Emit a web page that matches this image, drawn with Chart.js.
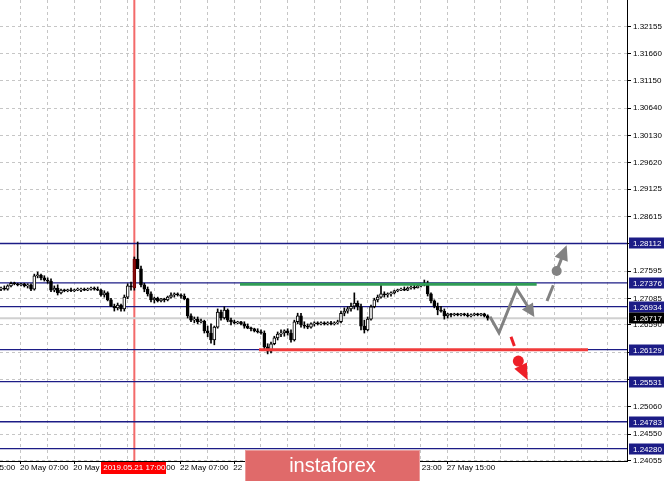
<!DOCTYPE html>
<html>
<head>
<meta charset="utf-8">
<script src="https://cdn.jsdelivr.net/npm/chart.js@4.4.1/dist/chart.umd.min.js"></script>
<style>
  html, body { margin: 0; padding: 0; background: #fff; overflow: hidden; }
  canvas { display: block; }
</style>
</head>
<body>
<canvas id="chart" width="665" height="481"></canvas>
<script>
// GBPUSD H1, 17–28 May 2019 — one entry per bar
const openP = [
  1.2726, 1.2728, 1.2726, 1.2732, 1.2737, 1.2736, 1.2734, 1.2736, 1.2732, 1.2734,
  1.2726, 1.2751, 1.2752, 1.2747, 1.2743, 1.2741, 1.2724, 1.2728, 1.2719, 1.2724,
  1.2723, 1.2724, 1.2723, 1.2724, 1.2724, 1.2726, 1.2724, 1.2726, 1.2728, 1.2726,
  1.2724, 1.2715, 1.2719, 1.2706, 1.2694, 1.2691, 1.2696, 1.2689, 1.2711, 1.2732,
  1.2728, 1.2782, 1.2764, 1.2734, 1.2726, 1.2717, 1.2706, 1.2709, 1.2704, 1.2708,
  1.2706, 1.2711, 1.2715, 1.2717, 1.2715, 1.2713, 1.2708, 1.2676, 1.2668, 1.2670,
  1.2665, 1.2666, 1.2648, 1.2644, 1.2631, 1.2655, 1.2683, 1.2672, 1.2687, 1.2668,
  1.2665, 1.2663, 1.2665, 1.2661, 1.2657, 1.2653, 1.2652, 1.2648, 1.2646, 1.2644,
  1.2618, 1.2610, 1.2624, 1.2635, 1.2642, 1.2644, 1.2648, 1.2644, 1.2631, 1.2665,
  1.2676, 1.2659, 1.2657, 1.2655, 1.2661, 1.2663, 1.2661, 1.2663, 1.2661, 1.2663,
  1.2661, 1.2663, 1.2665, 1.2681, 1.2685, 1.2689, 1.2694, 1.2700, 1.2693, 1.2657,
  1.2650, 1.2670, 1.2693, 1.2706, 1.2711, 1.2717, 1.2715, 1.2717, 1.2719, 1.2723,
  1.2724, 1.2726, 1.2724, 1.2728, 1.2730, 1.2728, 1.2732, 1.2734, 1.2737, 1.2717,
  1.2704, 1.2694, 1.2687, 1.2685, 1.2676, 1.2680, 1.2678, 1.2680, 1.2678, 1.2680,
  1.2678, 1.2676, 1.2678, 1.2680, 1.2678, 1.2680, 1.2676
];
const highP = [
  1.2730, 1.2732, 1.2734, 1.2739, 1.2739, 1.2737, 1.2737, 1.2737, 1.2736, 1.2736,
  1.2754, 1.2758, 1.2754, 1.2751, 1.2747, 1.2745, 1.2732, 1.2734, 1.2726, 1.2726,
  1.2726, 1.2728, 1.2726, 1.2728, 1.2728, 1.2728, 1.2728, 1.2730, 1.2730, 1.2730,
  1.2726, 1.2723, 1.2721, 1.2709, 1.2698, 1.2700, 1.2698, 1.2715, 1.2736, 1.2739,
  1.2786, 1.2814, 1.2769, 1.2737, 1.2730, 1.2721, 1.2711, 1.2711, 1.2709, 1.2709,
  1.2713, 1.2719, 1.2719, 1.2719, 1.2717, 1.2717, 1.2709, 1.2680, 1.2674, 1.2674,
  1.2670, 1.2668, 1.2657, 1.2661, 1.2657, 1.2689, 1.2687, 1.2693, 1.2689, 1.2672,
  1.2668, 1.2666, 1.2666, 1.2665, 1.2661, 1.2655, 1.2653, 1.2652, 1.2650, 1.2648,
  1.2624, 1.2627, 1.2638, 1.2646, 1.2650, 1.2650, 1.2652, 1.2650, 1.2668, 1.2681,
  1.2681, 1.2665, 1.2661, 1.2663, 1.2665, 1.2665, 1.2665, 1.2665, 1.2665, 1.2666,
  1.2665, 1.2668, 1.2685, 1.2691, 1.2693, 1.2700, 1.2719, 1.2704, 1.2698, 1.2668,
  1.2674, 1.2696, 1.2709, 1.2715, 1.2734, 1.2721, 1.2719, 1.2721, 1.2724, 1.2726,
  1.2728, 1.2730, 1.2730, 1.2732, 1.2734, 1.2734, 1.2736, 1.2743, 1.2741, 1.2719,
  1.2706, 1.2700, 1.2694, 1.2689, 1.2681, 1.2681, 1.2681, 1.2681, 1.2681, 1.2681,
  1.2681, 1.2680, 1.2681, 1.2681, 1.2681, 1.2681, 1.2678
];
const lowP = [
  1.2723, 1.2724, 1.2724, 1.2730, 1.2734, 1.2732, 1.2732, 1.2730, 1.2728, 1.2723,
  1.2724, 1.2747, 1.2743, 1.2741, 1.2737, 1.2721, 1.2721, 1.2715, 1.2717, 1.2721,
  1.2721, 1.2721, 1.2721, 1.2723, 1.2721, 1.2723, 1.2723, 1.2724, 1.2724, 1.2723,
  1.2713, 1.2711, 1.2704, 1.2693, 1.2685, 1.2687, 1.2685, 1.2685, 1.2708, 1.2724,
  1.2724, 1.2779, 1.2730, 1.2721, 1.2713, 1.2702, 1.2700, 1.2702, 1.2702, 1.2702,
  1.2704, 1.2709, 1.2711, 1.2713, 1.2709, 1.2706, 1.2672, 1.2665, 1.2663, 1.2661,
  1.2663, 1.2644, 1.2637, 1.2625, 1.2622, 1.2653, 1.2668, 1.2670, 1.2665, 1.2659,
  1.2661, 1.2661, 1.2659, 1.2653, 1.2652, 1.2648, 1.2646, 1.2644, 1.2642, 1.2614,
  1.2605, 1.2607, 1.2622, 1.2631, 1.2637, 1.2638, 1.2640, 1.2627, 1.2629, 1.2661,
  1.2655, 1.2653, 1.2652, 1.2653, 1.2657, 1.2659, 1.2659, 1.2659, 1.2659, 1.2659,
  1.2659, 1.2661, 1.2663, 1.2676, 1.2681, 1.2685, 1.2689, 1.2687, 1.2650, 1.2644,
  1.2648, 1.2668, 1.2691, 1.2702, 1.2709, 1.2711, 1.2711, 1.2713, 1.2717, 1.2721,
  1.2723, 1.2723, 1.2723, 1.2726, 1.2726, 1.2728, 1.2730, 1.2732, 1.2713, 1.2700,
  1.2691, 1.2678, 1.2683, 1.2670, 1.2672, 1.2674, 1.2676, 1.2676, 1.2676, 1.2676,
  1.2674, 1.2674, 1.2676, 1.2676, 1.2676, 1.2674, 1.2668
];
const closeP = [
  1.2728, 1.2726, 1.2732, 1.2737, 1.2736, 1.2734, 1.2736, 1.2732, 1.2734, 1.2726,
  1.2751, 1.2752, 1.2747, 1.2743, 1.2741, 1.2724, 1.2728, 1.2719, 1.2724, 1.2723,
  1.2724, 1.2723, 1.2724, 1.2724, 1.2726, 1.2724, 1.2726, 1.2728, 1.2726, 1.2724,
  1.2715, 1.2719, 1.2706, 1.2694, 1.2691, 1.2696, 1.2689, 1.2711, 1.2732, 1.2730,
  1.2782, 1.2764, 1.2734, 1.2726, 1.2717, 1.2706, 1.2709, 1.2704, 1.2708, 1.2706,
  1.2711, 1.2715, 1.2717, 1.2715, 1.2713, 1.2708, 1.2676, 1.2668, 1.2670, 1.2665,
  1.2666, 1.2648, 1.2644, 1.2631, 1.2655, 1.2683, 1.2672, 1.2687, 1.2668, 1.2665,
  1.2663, 1.2665, 1.2661, 1.2657, 1.2653, 1.2652, 1.2648, 1.2646, 1.2644, 1.2618,
  1.2610, 1.2624, 1.2635, 1.2642, 1.2644, 1.2648, 1.2644, 1.2631, 1.2665, 1.2676,
  1.2659, 1.2657, 1.2655, 1.2661, 1.2663, 1.2661, 1.2663, 1.2661, 1.2663, 1.2661,
  1.2663, 1.2665, 1.2681, 1.2685, 1.2689, 1.2694, 1.2700, 1.2693, 1.2657, 1.2650,
  1.2670, 1.2693, 1.2706, 1.2711, 1.2717, 1.2715, 1.2717, 1.2719, 1.2723, 1.2724,
  1.2726, 1.2724, 1.2728, 1.2730, 1.2728, 1.2732, 1.2734, 1.2737, 1.2717, 1.2704,
  1.2694, 1.2687, 1.2685, 1.2676, 1.2680, 1.2678, 1.2680, 1.2678, 1.2680, 1.2678,
  1.2676, 1.2678, 1.2680, 1.2678, 1.2680, 1.2676, 1.26717
];

// time axis: bar index of each label and its text
const timeTickIdx = [-10, 6, 22, 38, 54, 70, 86, 102, 118, 134];
const timeTickText = ['17 May 15:00', '20 May 07:00', '20 May 23:00', '21 May 15:00', '22 May 07:00',
  '22 May 23:00', '23 May 15:00', '24 May 07:00', '24 May 23:00', '27 May 15:00'];
const markedBar = 40;
const markedText = '2019.05.21 17:00';

// price axis
const priceTicks = [1.32155, 1.31660, 1.31150, 1.30640, 1.30130, 1.29620, 1.29125, 1.28615, 1.28105,
  1.27595, 1.27085, 1.26590, 1.26080, 1.25570, 1.25060, 1.24550, 1.24055];
const levels = [1.28112, 1.27376, 1.26934, 1.26129, 1.25531, 1.24783, 1.24280];
const lastPrice = 1.26717;

// drawn objects, in [bar index, price]
const greenSeg = [[71.7, 1.27350], [160.7, 1.27350]];
const redSeg = [[77.4, 1.26129], [176.1, 1.26129]];
const grayPath = [[146.7, 1.26745], [149.4, 1.26446], [154.7, 1.27268], [160.0, 1.26739]];
const upDash = [[163.8, 1.27038], [165.7, 1.27331]];
const upDot = [166.7, 1.27598];
const upTip = [169.7, 1.28078];
const downDash = [[153.0, 1.26371], [154.0, 1.26197]];
const downDot = [155.2, 1.25917];
const downTip = [158.0, 1.25562];

const xMin = -0.3, xMax = 187.8;
const yMin = 1.24050, yMax = 1.32659;
const FONT = '"Liberation Sans", Arial, sans-serif';
const NAVY = '#1c1c86';

const idx = openP.map((_, i) => i);
const isUp = (i) => closeP[i] >= openP[i];
const seg = (pts) => pts.map(([x, y]) => ({ x, y }));

function head(ctx, x1, y1, x2, y2, len, half) {
  const a = Math.atan2(y2 - y1, x2 - x1);
  const bx = x2 - len * Math.cos(a), by = y2 - len * Math.sin(a);
  ctx.beginPath();
  ctx.moveTo(x2, y2);
  ctx.lineTo(bx + half * Math.sin(a), by - half * Math.cos(a));
  ctx.lineTo(bx - half * Math.sin(a), by + half * Math.cos(a));
  ctx.closePath();
  ctx.fill();
  return [bx + 1 * Math.cos(a), by + 1 * Math.sin(a)];
}

const overlay = {
  id: 'overlay',
  beforeDatasetsDraw(chart) {
    const { ctx, chartArea: a, scales: { x } } = chart;
    const px = x.getPixelForValue(markedBar);
    ctx.save();
    ctx.strokeStyle = '#f36a6a';
    ctx.lineWidth = 2;
    ctx.beginPath(); ctx.moveTo(px, a.top); ctx.lineTo(px, a.bottom); ctx.stroke();
    ctx.restore();
  },
  afterDatasetsDraw(chart) {
    const { ctx, scales: { x, y } } = chart;
    const P = ([i, v]) => [x.getPixelForValue(i), y.getPixelForValue(v)];
    ctx.save();
    ctx.lineCap = 'butt';
    ctx.lineJoin = 'miter';

    // gray zigzag
    ctx.strokeStyle = ctx.fillStyle = '#828282';
    ctx.lineWidth = 3;
    const g = grayPath.map(P);
    const n = g.length;
    const gb = head(ctx, g[n - 2][0], g[n - 2][1], g[n - 1][0], g[n - 1][1], 13, 6.5);
    ctx.beginPath();
    ctx.moveTo(g[0][0], g[0][1]);
    for (let k = 1; k < n - 1; k++) ctx.lineTo(g[k][0], g[k][1]);
    ctx.lineTo(gb[0], gb[1]);
    ctx.stroke();

    // gray up: dash, dot, arrow
    let d = upDash.map(P);
    ctx.beginPath(); ctx.moveTo(d[0][0], d[0][1]); ctx.lineTo(d[1][0], d[1][1]); ctx.stroke();
    let c = P(upDot), t = P(upTip);
    ctx.beginPath(); ctx.arc(c[0], c[1], 5, 0, Math.PI * 2); ctx.fill();
    let b = head(ctx, c[0], c[1], t[0], t[1], 15, 7);
    ctx.beginPath(); ctx.moveTo(c[0], c[1]); ctx.lineTo(b[0], b[1]); ctx.stroke();

    // red down: dash, dot, arrow
    ctx.strokeStyle = ctx.fillStyle = '#ee1f27';
    d = downDash.map(P);
    ctx.beginPath(); ctx.moveTo(d[0][0], d[0][1]); ctx.lineTo(d[1][0], d[1][1]); ctx.stroke();
    c = P(downDot); t = P(downTip);
    ctx.beginPath(); ctx.arc(c[0], c[1], 5.5, 0, Math.PI * 2); ctx.fill();
    b = head(ctx, c[0], c[1], t[0], t[1], 16, 7);
    ctx.beginPath(); ctx.moveTo(c[0], c[1]); ctx.lineTo(b[0], b[1]); ctx.stroke();
    ctx.restore();
  },
  afterDraw(chart) {
    const { ctx, chartArea: a, scales: { x, y } } = chart;
    ctx.save();
    ctx.font = '8px ' + FONT;
    ctx.textBaseline = 'middle';

    // time labels
    ctx.fillStyle = '#000';
    ctx.textAlign = 'left';
    timeTickIdx.forEach((ti, k) => {
      ctx.fillText(timeTickText[k], x.getPixelForValue(ti) - 1, a.bottom + 7);
    });

    // highlighted bar time
    const mx = x.getPixelForValue(markedBar);
    ctx.fillStyle = '#ff0000';
    ctx.fillRect(Math.round(mx - 33), a.bottom + 1, 65, 12);
    ctx.fillStyle = '#fff';
    ctx.textAlign = 'center';
    ctx.fillText(markedText, mx, a.bottom + 7);

    // price boxes
    ctx.textAlign = 'left';
    const box = (v, bg) => {
      const py = y.getPixelForValue(v);
      ctx.fillStyle = bg;
      ctx.fillRect(a.right + 2, Math.round(py) - 5.5, 35, 11);
      ctx.fillStyle = '#fff';
      ctx.fillText(v.toFixed(5), a.right + 6, Math.round(py) + 0.5);
    };
    levels.forEach((v) => box(v, NAVY));
    box(lastPrice, '#000');

    // watermark
    ctx.fillStyle = '#e06a6a';
    ctx.fillRect(245, 450, 175, 31);
    ctx.strokeStyle = '#eb9a9a';
    ctx.lineWidth = 1;
    ctx.strokeRect(245.5, 450.5, 174, 31);
    ctx.fillStyle = '#fff';
    ctx.font = '20px ' + FONT;
    ctx.textAlign = 'center';
    ctx.fillText('instaforex', 332.5, 466);
    ctx.restore();
  }
};

new Chart(document.getElementById('chart'), {
  type: 'bar',
  data: {
    datasets: [
      {
        type: 'bar', order: 1, grouped: false,
        data: idx.map((i) => ({ x: i, y: [openP[i], closeP[i]] })),
        barPercentage: 1, categoryPercentage: 1, maxBarThickness: 3, minBarLength: 1,
        borderSkipped: false, borderWidth: 1,
        borderColor: (c) => (c.dataIndex === markedBar ? '#6e0000' : '#000'),
        backgroundColor: (c) => (c.dataIndex === markedBar ? '#8a0c0c' : isUp(c.dataIndex) ? '#fff' : '#000'),
      },
      {
        type: 'bar', order: 2, grouped: false,
        data: idx.map((i) => ({ x: i, y: [lowP[i], highP[i]] })),
        barPercentage: 1, categoryPercentage: 1, maxBarThickness: 1,
        borderWidth: 0, backgroundColor: '#000',
      },
      ...levels.map((v) => ({
        type: 'line', order: 4, data: seg([[xMin, v], [xMax, v]]),
        borderColor: NAVY, borderWidth: 1.3, pointRadius: 0,
      })),
      {
        type: 'line', order: 5, data: seg([[xMin, lastPrice], [xMax, lastPrice]]),
        borderColor: '#d0d0d0', borderWidth: 2, pointRadius: 0,
      },
      { type: 'line', order: 0, data: seg(greenSeg), borderColor: '#2f9d55', borderWidth: 3, pointRadius: 0 },
      { type: 'line', order: 0, data: seg(redSeg), borderColor: '#f03b3b', borderWidth: 3, pointRadius: 0 },
    ],
  },
  options: {
    responsive: false,
    animation: false,
    events: [],
    layout: { padding: 0 },
    plugins: { legend: { display: false }, tooltip: { enabled: false } },
    scales: {
      x: {
        type: 'linear', min: xMin, max: xMax, offset: false,
        afterBuildTicks: (s) => {
          const t = [];
          for (let v = timeTickIdx[0] + 8; v <= xMax; v += 8) t.push({ value: v });
          s.ticks = t;
        },
        afterFit: (s) => { s.height = 20; s.paddingLeft = 0; s.paddingRight = 0; },
        ticks: { display: false },
        grid: {
          offset: false, color: '#c6c6c6', lineWidth: 1,
          drawTicks: true, tickLength: 3,
          tickColor: (c) => (timeTickIdx.includes(c.tick && c.tick.value) ? '#000' : 'rgba(0,0,0,0)'),
        },
        border: { display: true, color: '#000', width: 1, dash: [3, 3] },
      },
      y: {
        type: 'linear', position: 'right', min: yMin, max: yMax,
        afterBuildTicks: (s) => { s.ticks = priceTicks.map((v) => ({ value: v })); },
        afterFit: (s) => { s.width = 38; s.paddingTop = 0; s.paddingBottom = 0; },
        ticks: {
          autoSkip: false, padding: 2, color: '#000',
          font: { family: FONT, size: 8 },
          callback: (v) => Number(v).toFixed(5),
        },
        grid: { color: '#c6c6c6', lineWidth: 1, drawTicks: true, tickLength: 4, tickColor: '#000' },
        border: { display: true, color: '#000', width: 1, dash: [3, 3] },
      },
    },
  },
  plugins: [overlay],
});
</script>
</body>
</html>
